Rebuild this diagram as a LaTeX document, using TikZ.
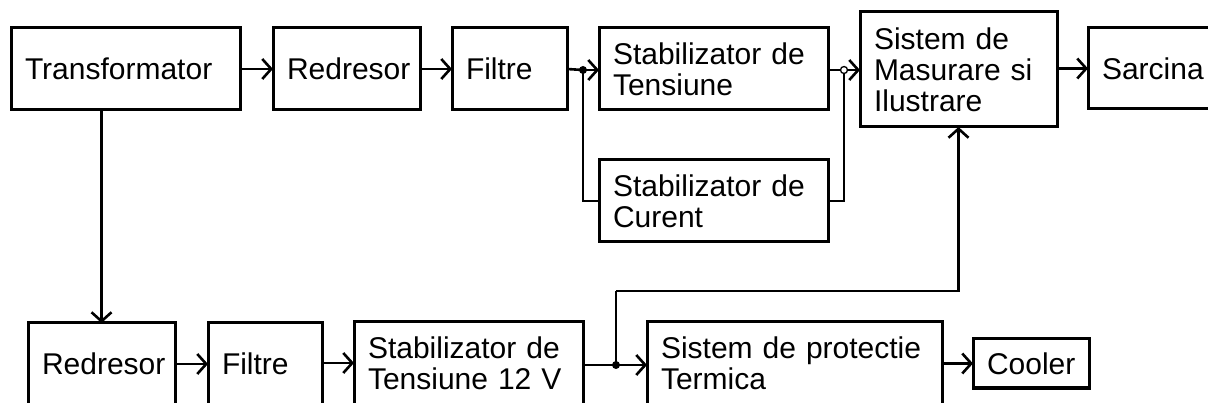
\documentclass[tikz,border=0pt]{standalone}
\usepackage{fontspec}
\setmainfont{Liberation Sans}
\usetikzlibrary{arrows.meta}
\begin{document}
\begin{tikzpicture}[x=1pt,y=-1pt,
  blk/.style={draw, line width=3pt, outer sep=0pt, inner xsep=14pt, inner ysep=0pt,
    align=left, anchor=north west, font=\fontsize{30}{31}\selectfont},
  conn/.style={line width=2.6pt},
  arr/.style={conn, -{Straight Barb[length=9pt,width=20pt,line width=2.6pt]}},
  dot/.style={circle, fill=black, inner sep=0pt, minimum size=8pt},
  odot/.style={circle, draw, fill=white, inner sep=0pt, minimum size=7pt, line width=1.3pt}]
\fill[white] (0,0) rectangle (1208,403);
\useasboundingbox (0,0) rectangle (1208,403);
\clip (0,0) rectangle (1208,403);
% top row
\node[blk, minimum height=82pt, text width=201pt] (trafo) at (11,28) {Transformator};
\node[blk, minimum height=82pt, text width=119pt] (red1) at (273,28) {Redresor};
\node[blk, minimum height=82pt, text width=87pt] (fil1) at (452,28) {Filtre};
\node[blk, minimum height=82pt, text width=201pt] (stabT) at (599,28) {Stabilizator de\\Tensiune};
\node[blk, minimum height=82pt, text width=201pt] (stabC) at (599,160) {Stabilizator de\\Curent};
\node[blk, minimum height=115pt, text width=169pt] (sist) at (860,12) {Sistem de\\Masurare si\\Ilustrare};
\node[blk, minimum height=81pt, text width=102pt] (sarc) at (1088,28) {Sarcina};
% bottom row
\node[blk, minimum height=82pt, text width=119pt] (red2) at (28,323) {Redresor};
\node[blk, minimum height=82pt, text width=86pt] (fil2) at (208,323) {Filtre};
\node[blk, minimum height=82pt, text width=201pt] (stab12) at (354,322) {Stabilizator de\\Tensiune 12 V};
\node[blk, minimum height=82pt, text width=267pt] (prot) at (647,322) {Sistem de protectie\\Termica};
\node[blk, minimum height=49pt, text width=88pt] (cool) at (973,339) {Cooler};
% junctions
\node[dot] (j1) at (583,70) {};
\node[odot] (o1) at (844,70) {};
\node[dot] (j2) at (616,365) {};
\coordinate (k1) at (616,291);
% connectors top
\draw[arr] (trafo.east) -- (red1.west);
\draw[arr] (red1.west -| red1.east) -- (fil1.west);
\draw[conn] (fil1.east) -- (j1.center);
\draw[arr] (j1.center) -- (stabT.west |- j1.center);
\draw[conn] (j1.center) |- (stabC.west);
\draw[conn] (stabT.east |- o1.west) -- (o1.west);
\draw[conn] (stabC.east) -| (o1.south);
\draw[arr] (o1.east) -- (sist.west |- o1.east);
\draw[arr] (sist.east |- sarc.west) -- (sarc.west);
% vertical
\draw[arr] (red2.north |- trafo.south) -- (red2.north);
% connectors bottom
\draw[arr] (red2.east |- fil2.west) -- (fil2.west);
\draw[arr] (fil2.east |- stab12.west) -- (stab12.west);
\draw[conn] (stab12.east |- j2.center) -- (j2.center);
\draw[arr] (j2.center) -- (prot.west |- j2.center);
\draw[conn] (j2.center) -- (k1);
\draw[arr] (k1) -| (sist.south);
\draw[arr] (prot.east |- cool.west) -- (cool.west);
\end{tikzpicture}
\end{document}
